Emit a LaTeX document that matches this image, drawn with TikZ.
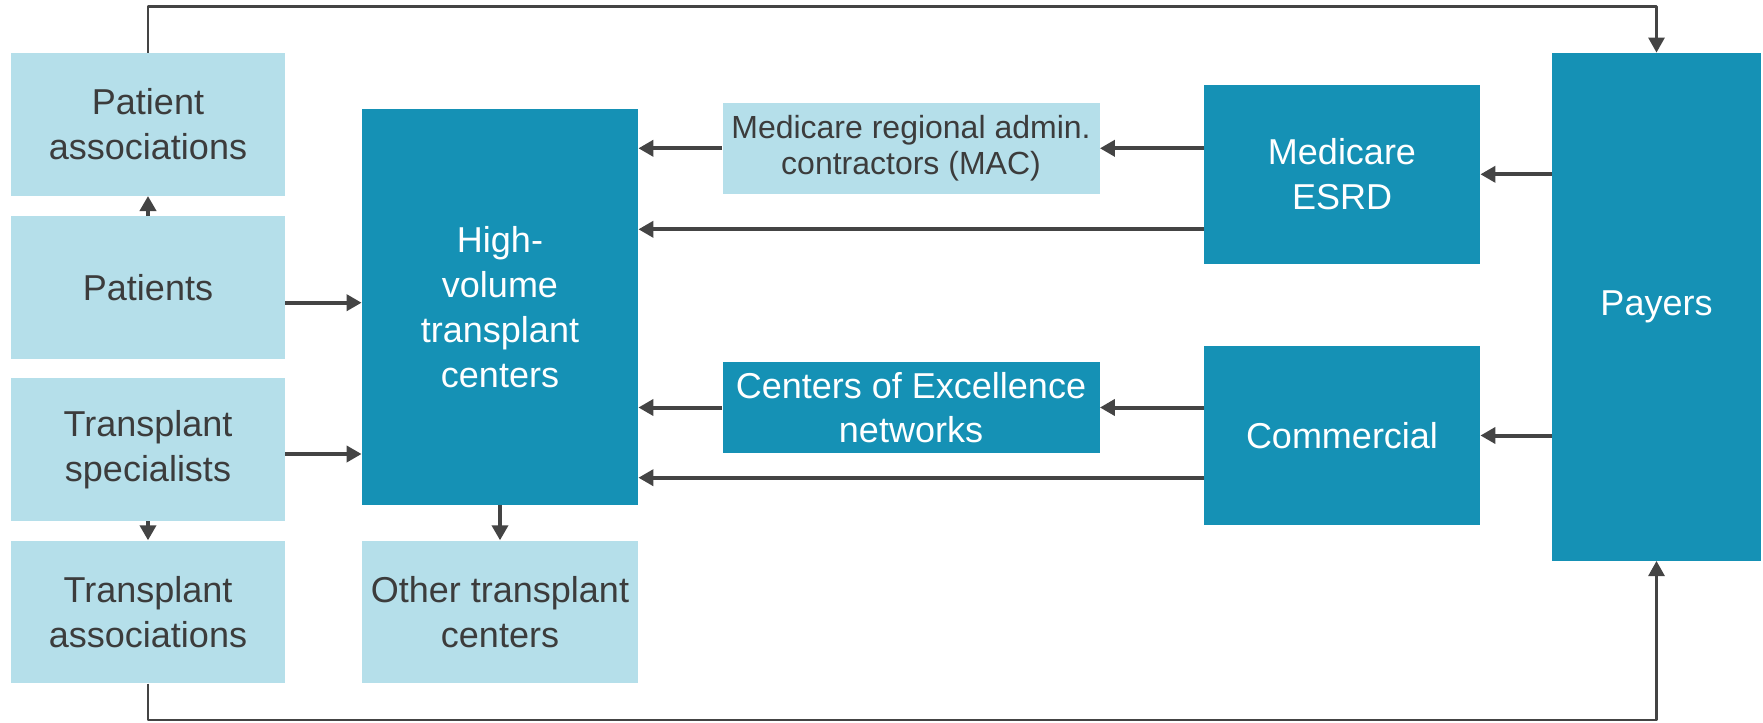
\documentclass[tikz,border=0pt]{standalone}
\usepackage{fontspec}
\setmainfont{Liberation Sans}
\usetikzlibrary{arrows.meta}
\definecolor{lightbox}{HTML}{B5DFEA}
\definecolor{darkbox}{HTML}{1591B5}
\definecolor{arrowgray}{HTML}{444444}
\definecolor{textgray}{HTML}{3C3C3C}
\begin{document}
\begin{tikzpicture}[x=0.5pt, y=-0.5pt, line join=round, >={Triangle[length=7.5pt,width=8pt]},
		box/.style={inner sep=0pt, align=center, font=\fontsize{18}{22.5}\selectfont},
		light/.style={box, fill=lightbox, text=textgray},
		dark/.style={box, fill=darkbox, text=white},
		arr/.style={->, draw=arrowgray, line width=2pt},
		loop/.style={arr, line width=1.4pt}]
			\def\colw{137pt} \def\colh{71.3pt}
			\useasboundingbox (0,0) rectangle (1763,723);
			%\draw[color=gray!50,dashed] (0,0) grid[step=100] (1763,723);
			% left column
			\node[light, minimum width=\colw, minimum height=\colh] (passoc) at (148,124.3) {Patient\\associations};
			\node[light, minimum width=\colw, minimum height=\colh] (patients) at (148,287.3) {Patients};
			\node[light, minimum width=\colw, minimum height=\colh] (tspec) at (148,449.3) {Transplant\\specialists};
			\node[light, minimum width=\colw, minimum height=\colh] (tassoc) at (148,612) {Transplant\\associations};
			% centers
			\node[dark, minimum width=138pt, minimum height=198pt] (hvc) at (500,307) {High-\\volume\\transplant\\centers};
			\node[light, minimum width=138pt, minimum height=\colh] (other) at (500,612) {Other transplant\\centers};
			\node[light, minimum width=188.5pt, minimum height=45.3pt, font=\fontsize{16}{18.3}\selectfont] (mac) at (911,148.3) {Medicare regional admin.\\contractors (MAC)};
			\node[dark, minimum width=188.5pt, minimum height=45.3pt, font=\fontsize{18}{21.8}\selectfont] (coe) at (911,407.5) {Centers of Excellence\\networks};
			% payers
			\node[dark, minimum width=138pt, minimum height=89.3pt] (esrd) at (1342,174.3) {Medicare\\ESRD};
			\node[dark, minimum width=138pt, minimum height=89.2pt] (comm) at (1342,435.5) {Commercial};
			\node[dark, minimum width=104.5pt, minimum height=253.8pt] (payers) at (1656.5,306.8) {Payers};
			\coordinate (toprow) at (0,6.5);
			\coordinate (botrow) at (0,720);
			\coordinate (ypat) at (0,302.7);
			\coordinate (yspec) at (0,454);
			\coordinate (yesrd) at (0,229.3);
			\coordinate (ycomm) at (0,477.7);
			\draw[arr] (patients) -- (passoc);
			\draw[arr] (tspec) -- (tassoc);
			\draw[arr] (hvc) -- (other);
			\draw[arr] (patients.east |- ypat) -- (hvc.west |- ypat);
			\draw[arr] (tspec.east |- yspec) -- (hvc.west |- yspec);
			\draw[arr] (mac) -- (mac -| hvc.east);
			\draw[arr] (esrd.west |- mac) -- (mac);
			\draw[arr] (esrd.west |- yesrd) -- (hvc.east |- yesrd);
			\draw[arr] (payers.west |- esrd) -- (esrd);
			\draw[arr] (coe) -- (coe -| hvc.east);
			\draw[arr] (comm.west |- coe) -- (coe);
			\draw[arr] (comm.west |- ycomm) -- (hvc.east |- ycomm);
			\draw[arr] (payers.west |- comm) -- (comm);
			\draw[loop] (passoc.north) |- (payers.north |- toprow) -- (payers.north);
			\draw[loop] (tassoc.south) |- (payers.south |- botrow) -- (payers.south);
		\end{tikzpicture}
\end{document}
